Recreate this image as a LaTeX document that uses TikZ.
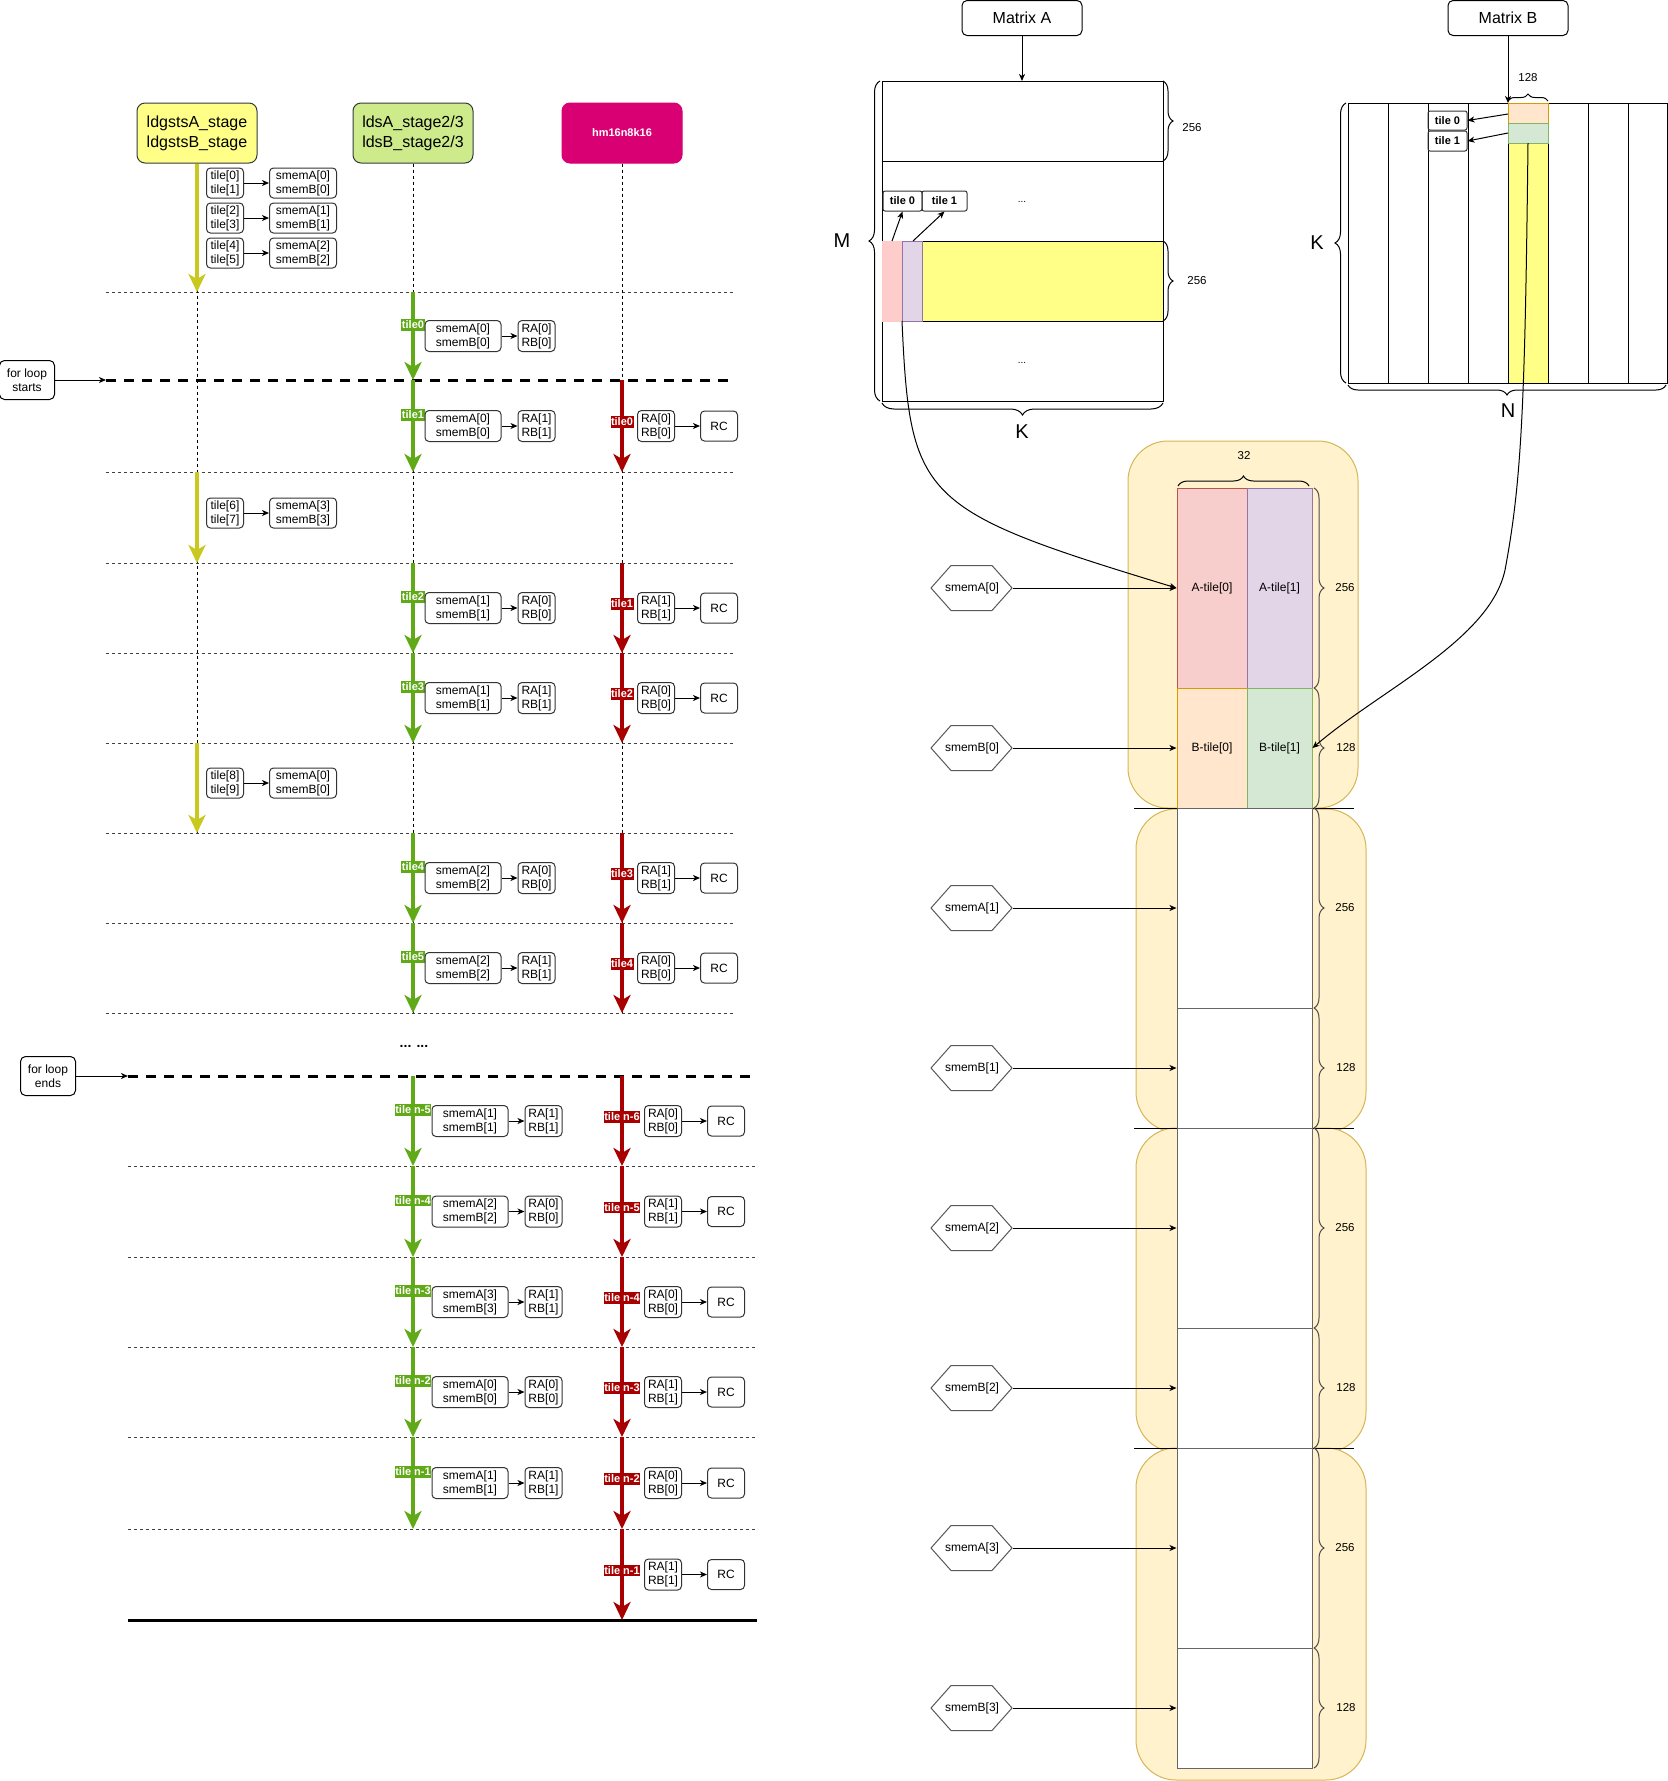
\documentclass[tikz,border=0pt]{standalone}
\usepackage{fontspec}
\setmainfont{Liberation Sans}
\usepackage{xcolor}
\usepackage{tikz}
\usetikzlibrary{arrows.meta,positioning,calc,decorations.pathreplacing}

\definecolor{stagey}{HTML}{FFFF88}
\definecolor{stageg}{HTML}{CDEB8B}
\definecolor{mmacol}{HTML}{D80073}
\definecolor{edgegray}{HTML}{36393D}
\definecolor{ggreen}{HTML}{60A917}
\definecolor{dred}{HTML}{A80000}
\definecolor{yline}{HTML}{C8C81E}
\definecolor{pinkM}{HTML}{FFCCCC}
\definecolor{pinkA}{HTML}{F8CECC}
\definecolor{pinkd}{HTML}{B85450}
\definecolor{purA}{HTML}{E1D5E7}
\definecolor{purd}{HTML}{9673A6}
\definecolor{orgA}{HTML}{FFE6CC}
\definecolor{orgd}{HTML}{D79B00}
\definecolor{grnA}{HTML}{D5E8D4}
\definecolor{grnd}{HTML}{82B366}
\definecolor{bgy}{HTML}{FFF2CC}
\definecolor{bgd}{HTML}{D6B656}

\begin{document}
\begin{tikzpicture}[x=1pt, y=-1pt, line width=1pt,
    >={Stealth[length=7pt,width=6pt,inset=2pt]},
    every node/.style={font=\fontsize{12}{14}\selectfont},
    stagebox/.style={draw=edgegray, rounded corners=8pt, minimum width=120, minimum height=60, align=center, font=\fontsize{16}{20}\selectfont},
    membox/.style={draw=black!80, rounded corners=4pt, align=center, minimum height=31, inner sep=0pt},
    loopbox/.style={draw, rounded corners=5pt, align=center, minimum width=55, minimum height=39, inner sep=0pt},
    tagg/.style={fill=ggreen, text=white, inner xsep=0.5pt, inner ysep=1.5pt, font=\bfseries\fontsize{11}{12}\selectfont},
    tagr/.style={tagg, fill=dred},
    sepline/.style={dash pattern=on 3pt off 3pt, draw=black!75},
    loopline/.style={line width=3pt, dash pattern=on 10pt off 8pt},
    lifeline/.style={dash pattern=on 3pt off 3pt, line width=0.8pt},
    yarrow/.style={draw=yline, line width=3.5pt, -{Stealth[length=18pt,width=17pt,inset=5pt]}},
    garrow/.style={yarrow, draw=ggreen},
    rarrow/.style={yarrow, draw=dred},
    matbox/.style={draw, rounded corners=5pt, minimum width=120, minimum height=35, font=\fontsize{16}{18}\selectfont},
    tilelab/.style={draw=black!80, rounded corners=2pt, inner sep=0pt, minimum height=20, font=\bfseries\fontsize{11}{12}\selectfont},
    brc/.style={decorate, decoration={brace, amplitude=#1}},
    brc/.default=10pt,
    hexa/.style={minimum width=81, minimum height=45, inner sep=0pt},
    biglab/.style={font=\fontsize{20}{20}\selectfont},
    numlab/.style={font=\fontsize{11.5}{12}\selectfont}
]
\useasboundingbox (0,0) rectangle (1668,1781);

% ---------------- pipeline (left) ----------------
\node[stagebox, fill=stagey] (ldg) at (197,133) {ldgstsA\_stage\\ldgstsB\_stage};
\node[stagebox, fill=stageg] (lds) at (413,133) {ldsA\_stage2/3\\ldsB\_stage2/3};
\node[stagebox, fill=mmacol, draw=mmacol, text=white, font=\bfseries\fontsize{11}{13}\selectfont] (mma) at (622,133) {hm16n8k16};

\foreach \y in {292,472,563,653,743,833,923,1013}
  \draw[sepline] (106,\y) -- (733,\y);
\foreach \y in {1166,1257,1347,1437,1529}
  \draw[sepline] (128,\y) -- (757,\y);
\draw[loopline] (106,380) -- (733,380);
\draw[loopline] (128,1076) -- (757,1076);
\draw[line width=3pt] (128,1620) -- (757,1620);

\draw[lifeline] (ldg.south) -- (197,833);
\draw[lifeline] (lds.south) -- (413,1013);
\draw[lifeline] (mma.south) -- (622,1013);

\node[loopbox] (loopS) at (27,380) {for loop\\starts};
\coordinate (loopSend) at (106,380);
\draw[->] (loopS) -- (loopSend);
\node[loopbox] (loopE) at (48,1076) {for loop\\ends};
\coordinate (loopEend) at (128,1076);
\draw[->] (loopE) -- (loopEend);

\node[font=\bfseries\fontsize{14}{14}\selectfont] (gap) at (414,1046) {... ...};

% ldgsts stage
\coordinate (y1b) at (197,292);
\coordinate (y2a) at (197,472);
\coordinate (y2b) at (197,563);
\coordinate (y3a) at (197,743);
\coordinate (y3b) at (197,833);
\draw[yarrow] (ldg.south) -- (y1b);
\draw[yarrow] (y2a) -- (y2b);
\draw[yarrow] (y3a) -- (y3b);
\foreach \i/\y/\a/\b/\s in {1/183/0/1/0, 2/218/2/3/1, 3/253/4/5/2, 4/513/6/7/3, 5/783/8/9/0} {
  \node[membox, minimum width=37, minimum height=30] (yt\i) at (225,\y) {tile[\a]\\tile[\b]};
  \node[membox, minimum width=67, minimum height=30, right=25pt of yt\i] (ys\i) {smemA[\s]\\smemB[\s]};
  \draw[->] (yt\i) -- (ys\i);
}

% lds stage
\foreach \i/\ya/\yb/\t/\s/\r/\dx in {1/292/380/tile0/0/0/0, 2/380/472/tile1/0/1/0,
    3/563/653/tile2/1/0/0, 4/653/743/tile3/1/1/0, 5/833/923/tile4/2/0/0, 6/923/1013/tile5/2/1/0,
    7/1076/1166/tile n-5/1/1/7, 8/1166/1257/tile n-4/2/0/7, 9/1257/1347/tile n-3/3/1/7,
    10/1347/1437/tile n-2/0/0/7, 11/1437/1529/tile n-1/1/1/7} {
  \coordinate (ga\i) at (413,\ya);
  \coordinate (gb\i) at (413,\yb);
  \draw[garrow] (ga\i) -- (gb\i);
  \node[tagg] (gt\i) at ($(ga\i)!.5!(gb\i)+(0,-11)$) {\t};
  \node[membox, minimum width=76] (gs\i) at ($(ga\i)!.5!(gb\i)+(50+\dx,0)$) {smemA[\s]\\smemB[\s]};
  \node[membox, minimum width=37, right=16pt of gs\i] (gr\i) {RA[\r]\\RB[\r]};
  \draw[->] (gs\i) -- (gr\i);
}

% mma stage
\foreach \i/\ya/\yb/\t/\r/\dx in {1/380/472/tile0/0/0, 2/563/653/tile1/1/0, 3/653/743/tile2/0/0,
    4/833/923/tile3/1/0, 5/923/1013/tile4/0/0, 6/1076/1166/tile n-6/0/7, 7/1166/1257/tile n-5/1/7,
    8/1257/1347/tile n-4/0/7, 9/1347/1437/tile n-3/1/7, 10/1437/1529/tile n-2/0/7, 11/1529/1620/tile n-1/1/7} {
  \coordinate (ra\i) at (622,\ya);
  \coordinate (rb\i) at (622,\yb);
  \draw[rarrow] (ra\i) -- (rb\i);
  \node[tagr] (rt\i) at ($(ra\i)!.5!(rb\i)+(0,-4)$) {\t};
  \node[membox, minimum width=37] (rr\i) at ($(ra\i)!.5!(rb\i)+(34+\dx,0)$) {RA[\r]\\RB[\r]};
  \node[membox, minimum width=37, minimum height=30, right=25pt of rr\i] (rc\i) {RC};
  \draw[->] (rr\i) -- (rc\i);
}

% ---------------- matrix A ----------------
\node[matbox] (matA) at (1022,18) {Matrix A};
\draw (882,81) rectangle (1163,401);
\draw (882,161) -- (1163,161);
\draw[fill=stagey] (882,241) rectangle (1163,321);
\draw[draw=pinkM, fill=pinkM] (882,241) rectangle (902,321);
\draw[draw=purd, fill=purA] (902,241) rectangle (922,321);
\coordinate (matAtop) at (1022,81);
\draw[->] (matA) -- (matAtop);
\node[tilelab, minimum width=39] (tA0) at (902.5,201) {tile 0};
\node[tilelab, minimum width=45] (tA1) at (944.5,201) {tile 1};
\coordinate (pA0) at (892,241);
\coordinate (pA1) at (913,241);
\draw[->] (pA0) -- (tA0.south);
\draw[->] (pA1) -- (tA1.south);
\node[font=\fontsize{10}{10}\selectfont] (dotA1) at (1022,202) {...};
\node[font=\fontsize{10}{10}\selectfont] (dotA2) at (1022,363) {...};
\draw[brc=11pt] (880,401) -- (880,81);
\node[biglab] (labM) at (842,241) {M};
\draw[brc] (1163,81) -- (1163,161);
\node[numlab] (labA1) at (1192,128) {256};
\draw[brc] (1163,241) -- (1163,321);
\node[numlab] (labA2) at (1197,281) {256};
\draw[brc=12pt] (1163,403) -- (882,403);
\node[biglab] (labK1) at (1022,432) {K};

% ---------------- matrix B ----------------
\node[matbox] (matB) at (1508,18) {Matrix B};
\fill[stagey] (1508,103) rectangle (1548,383);
\draw (1348,103) rectangle (1667,383);
\foreach \x in {1388,1428,...,1628}
  \draw (\x,103) -- (\x,383);
\draw[draw=orgd, fill=orgA] (1508,103) rectangle (1548,123);
\draw[draw=grnd, fill=grnA] (1508,123) rectangle (1548,143);
\coordinate (matBtop) at (1508,103);
\draw[->] (matB) -- (matBtop);
\node[tilelab, minimum width=39, minimum height=19] (tB0) at (1447.5,120.5) {tile 0};
\node[tilelab, minimum width=39] (tB1) at (1447.5,141) {tile 1};
\coordinate (pB0) at (1508,114);
\coordinate (pB1) at (1508,133);
\draw[->] (pB0) -- (tB0.east);
\draw[->] (pB1) -- (tB1.east);
\draw[brc=11pt] (1346,383) -- (1346,103);
\node[biglab] (labK2) at (1317,243) {K};
\draw[brc] (1666,385) -- (1348,385);
\node[biglab] (labN) at (1508,411) {N};
\draw[brc=7pt] (1508,101) -- (1548,101);
\node[numlab] (lab128) at (1528,78) {128};

% ---------------- shared memory ----------------
\draw[draw=bgd, fill=bgy, rounded corners=40pt] (1128,441) rectangle (1358,808);
\draw[draw=bgd, fill=bgy, rounded corners=40pt] (1136,809) rectangle (1366,1132);
\draw[draw=bgd, fill=bgy, rounded corners=40pt] (1136,1128) rectangle (1366,1452);
\draw[draw=bgd, fill=bgy, rounded corners=40pt] (1136,1448) rectangle (1366,1780);
\foreach \y in {808,1128,1448}
  \draw (1134,\y) -- (1354,\y);

\node[draw=pinkd, fill=pinkA, minimum width=70, minimum height=200, inner sep=0pt] (at0) at (1212,588) {A-tile[0]};
\node[draw=purd, fill=purA, minimum width=65, minimum height=200, inner sep=0pt] (at1) at (1279.5,588) {A-tile[1]};
\node[draw=orgd, fill=orgA, minimum width=70, minimum height=120, inner sep=0pt] (bt0) at (1212,748) {B-tile[0]};
\node[draw=grnd, fill=grnA, minimum width=65, minimum height=120, inner sep=0pt] (bt1) at (1279.5,748) {B-tile[1]};
\foreach \k/\t in {1/808,2/1128,3/1448} {
  \node[draw=black!60, fill=white, minimum width=135, minimum height=200, inner sep=0pt] (sa\k) at (1244.5,\t+100) {};
  \node[draw=black!60, fill=white, minimum width=135, minimum height=120, inner sep=0pt] (sb\k) at (1244.5,\t+260) {};
}
\draw[brc] (1178,486) -- (1309,486);
\node[numlab] (lab32) at (1244,456) {32};

\foreach \k/\t in {0/488,1/808,2/1128,3/1448} {
  \node[hexa] (hA\k) at (972,\t+100) {smemA[\k]};
  \node[hexa] (hB\k) at (972,\t+260) {smemB[\k]};
  \draw[draw=black!65] (hA\k.west) -- ++(20,-22.5) -- ++(41,0) -- ++(20,22.5) -- ++(-20,22.5) -- ++(-41,0) -- cycle;
  \draw[draw=black!65] (hB\k.west) -- ++(20,-22.5) -- ++(41,0) -- ++(20,22.5) -- ++(-20,22.5) -- ++(-41,0) -- cycle;
  \draw[brc, draw=black!70] (1314,\t) -- (1314,\t+200);
  \draw[brc, draw=black!70] (1314,\t+200) -- (1314,\t+320);
  \node[numlab] (lA\k) at (1345,\t+100) {256};
  \node[numlab] (lB\k) at (1346,\t+260) {128};
}
\draw[->] (hA0) -- (at0);
\draw[->] (hB0) -- (bt0);
\foreach \k in {1,2,3} {
  \draw[->] (hA\k) -- (sa\k.west);
  \draw[->] (hB\k) -- (sb\k.west);
}

% tiles into shared memory
\coordinate (cA) at (902,321);
\draw[->] (cA) .. controls (910,500) and (920,510) .. (at0.west);
\coordinate (cB) at (1528,143);
\draw[->] (cB) .. controls (1525,400) and (1522,480) .. (1505,570) .. controls (1490,640) and (1380,690) .. (bt1.east);
\end{tikzpicture}
\end{document}
